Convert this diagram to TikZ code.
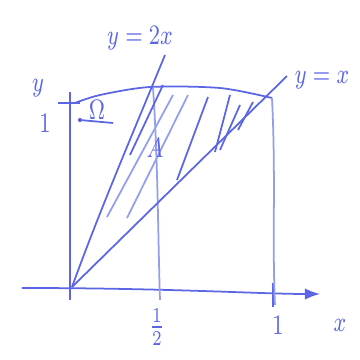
\documentclass[tikz,border=0pt]{standalone}
\usepackage{tikz}
\usetikzlibrary{arrows}
\definecolor{pen}{rgb}{0.36,0.40,0.90}
\definecolor{penlight}{rgb}{0.58,0.62,0.94}

\begin{document}
\begin{tikzpicture}[>=latex,line width=0.5pt,every node/.style={font=\footnotesize,pen,xscale=0.75,inner sep=1pt}]
 \useasboundingbox (0,0) rectangle (3.6,3.6);
 \coordinate (o) at (0.72,0.73);
 \coordinate (xl) at (0.22,0.72);
 \coordinate (xr) at (3.20,0.66);
 \coordinate (yt) at (0.70,2.68);
 \coordinate (yb) at (0.70,0.60);
 \coordinate (l2) at (1.65,3.05);
 \coordinate (l1) at (2.87,2.84);
 % axes
 \draw[->,pen] (xl) .. controls (1.7,0.72) and (2.6,0.66) .. (xr);
 \draw[pen] (yb)--(yt);
 \draw[pen] (0.58,2.57)--(0.80,2.57);
 \draw[pen] (2.73,0.77)--(2.73,0.53);
 % top boundary y=1
 \draw[pen] plot[smooth] coordinates {(0.75,2.57) (1.00,2.65) (1.50,2.73) (2.20,2.72) (2.72,2.62)};
 % verticals x=1/2 and x=1
 \draw[penlight] (1.53,2.72) .. controls (1.58,2.0) and (1.58,1.2) .. (1.60,0.60);
 \draw[penlight] (2.72,2.62) .. controls (2.76,1.8) and (2.72,1.2) .. (2.75,0.55);
 % the two lines
 \draw[pen] (o) .. controls (1.0,1.5) and (1.3,2.2) .. (l2);
 \draw[pen] (o)--(l1);
 % hatching
 \draw[pen] (1.30,2.05)--(1.63,2.75);
 \draw[penlight] (1.07,1.43)--(1.73,2.65);
 \draw[penlight] (1.27,1.42)--(1.88,2.65);
 \draw[pen] (1.77,1.80)--(2.08,2.63);
 \draw[pen] (2.15,2.08)--(2.30,2.65);
 \draw[pen] (2.20,2.10)--(2.40,2.55);
 \draw[pen] (2.38,2.30)--(2.53,2.58);
 % labels
 \node (ly2) at (1.40,3.22) {$y=2x$};
 \node (ly1) at (3.22,2.80) {$y=x$};
 \node (ly) at (0.38,2.72) {$y$};
 \node (lone) at (0.45,2.37) {$1$};
 \node (lom) at (0.97,2.50) {$\Omega$};
 \draw[pen] (0.80,2.40)--(1.13,2.37);
 \fill[pen] (0.80,2.40) circle (0.6pt);
 \node (la) at (1.55,2.12) {$A$};
 \node (lhalf) at (1.57,0.33) {$\frac{1}{2}$};
 \node (lxone) at (2.78,0.35) {$1$};
 \node (lx) at (3.40,0.35) {$x$};
\end{tikzpicture}
\end{document}
